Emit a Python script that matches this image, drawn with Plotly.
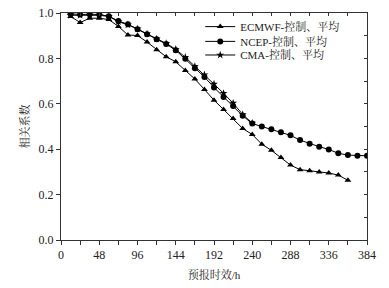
import plotly.graph_objects as go

hours = [12, 24, 36, 48, 60, 72, 84, 96, 108, 120, 132, 144, 156, 168, 180, 192, 204, 216,
         228, 240, 252, 264, 276, 288, 300, 312, 324, 336, 348, 360, 372, 384]

ecmwf = [0.985, 0.958, 0.977, 0.977, 0.971, 0.941, 0.903, 0.901, 0.872, 0.838, 0.807, 0.785,
         0.747, 0.709, 0.663, 0.616, 0.575, 0.535, 0.491, 0.465, 0.422, 0.395, 0.363, 0.330,
         0.310, 0.305, 0.300, 0.295, 0.286, 0.263]

ncep = [0.997, 0.993, 0.995, 0.993, 0.986, 0.965, 0.950, 0.928, 0.906, 0.884, 0.863, 0.836,
        0.798, 0.757, 0.718, 0.672, 0.630, 0.590, 0.547, 0.513, 0.500, 0.488, 0.475, 0.461,
        0.440, 0.424, 0.411, 0.399, 0.382, 0.374, 0.371, 0.371]

cma = [0.990, 0.990, 0.990, 0.990, 0.985, 0.962, 0.948, 0.930, 0.908, 0.886, 0.866, 0.840,
       0.805, 0.765, 0.728, 0.687, 0.646, 0.603, 0.553, 0.515]

names = ["ECMWF-控制、平均", "NCEP-控制、平均", "CMA-控制、平均"]

x_ticks = list(range(0, 385, 24))
x_labels = [str(v) if v % 48 == 0 else "" for v in x_ticks]
y_ticks = [0.0, 0.2, 0.4, 0.6, 0.8, 1.0]
y_labels = ["0.0", "0.2", "0.4", "0.6", "0.8", "1.0"]

FONT = "Liberation Serif, Noto Serif CJK SC, Noto Sans CJK SC, serif"

fig = go.Figure()
fig.add_trace(go.Scatter(x=hours[:len(ecmwf)], y=ecmwf, name=names[0], mode="lines+markers",
                         line=dict(color="black", width=1), legend="legend",
                         marker=dict(symbol="triangle-up", size=6, color="black")))
fig.add_trace(go.Scatter(x=hours[:len(ncep)], y=ncep, name=names[1], mode="lines+markers",
                         line=dict(color="black", width=1), legend="legend2",
                         marker=dict(symbol="circle", size=6, color="black")))
fig.add_trace(go.Scatter(x=hours[:len(cma)], y=cma, name=names[2], mode="lines+markers",
                         line=dict(color="black", width=1), legend="legend3",
                         marker=dict(symbol="star", size=6, color="black")))
# invisible trace to activate mirror axes
fig.add_trace(go.Scatter(x=[0], y=[0], xaxis="x2", yaxis="y2", mode="markers",
                         marker=dict(opacity=0), showlegend=False, hoverinfo="skip"))

leg_common = dict(xanchor="left", yanchor="middle", bgcolor="rgba(0,0,0,0)",
                  font=dict(family=FONT, size=11, color="#222"), itemwidth=30)

fig.update_layout(
    width=389, height=288,
    margin=dict(l=61, r=22, t=13, b=48, autoexpand=False),
    paper_bgcolor="white", plot_bgcolor="white",
    font=dict(family=FONT, size=11, color="#222"),
    showlegend=True,
    legend=dict(x=0.455, y=0.94, **leg_common),
    legend2=dict(x=0.455, y=0.875, **leg_common),
    legend3=dict(x=0.455, y=0.815, **leg_common),
    xaxis=dict(range=[0, 384], tickvals=x_ticks, ticktext=x_labels, ticks="outside",
               ticklen=4, tickwidth=1, tickcolor="#333", showline=True, linecolor="#333",
               linewidth=1, showgrid=False, zeroline=False, automargin=False,
               title=dict(text="预报时效/h", font=dict(family=FONT, size=11), standoff=9),
               tickfont=dict(family=FONT, size=12)),
    yaxis=dict(range=[0, 1.0], tickvals=y_ticks, ticktext=y_labels, ticks="outside",
               ticklen=4, tickwidth=1, tickcolor="#333", showline=True, linecolor="#333",
               linewidth=1, showgrid=False, zeroline=False, automargin=False,
               title=dict(text="相关系数", font=dict(family=FONT, size=11), standoff=6),
               tickfont=dict(family=FONT, size=12)),
    xaxis2=dict(range=[0, 384], overlaying="x", side="top", tickvals=x_ticks,
                showticklabels=False, ticks="inside", ticklen=3, tickcolor="#333",
                showline=True, linecolor="#333", linewidth=1, showgrid=False, zeroline=False,
                automargin=False),
    yaxis2=dict(range=[0, 1.0], overlaying="y", side="right", dtick=0.1, tick0=0,
                showticklabels=False, ticks="inside", ticklen=3, tickcolor="#333",
                showline=True, linecolor="#333", linewidth=1, showgrid=False, zeroline=False,
                automargin=False),
)

fig.write_html("out.html",
               config={"displayModeBar": False},
               post_script="document.body.style.margin='0';document.body.style.overflow='hidden';")
